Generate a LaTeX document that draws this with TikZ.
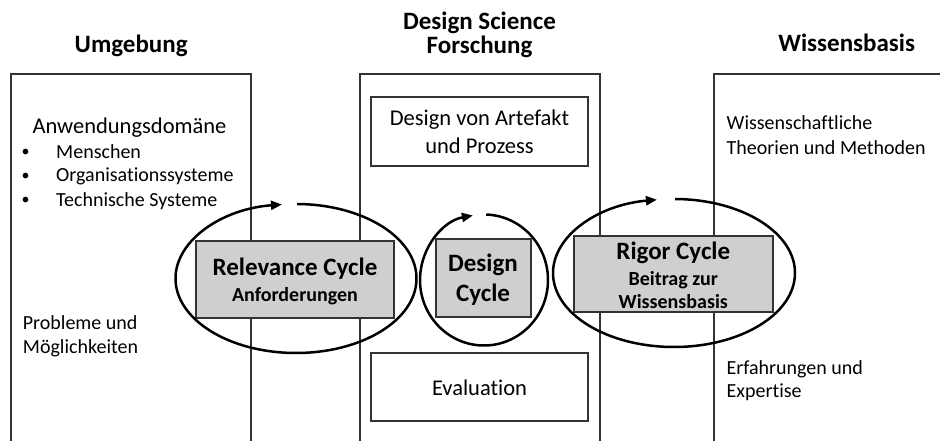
\documentclass[tikz,border=0pt]{standalone}
\usepackage{fontspec}
\setmainfont{Carlito}[Ligatures=NoCommon]
\usetikzlibrary{arrows.meta}
\definecolor{boxgray}{HTML}{D0CECE}
\newcommand{\listdot}{\makebox[34.5pt][l]{\raisebox{1.5pt}{\fontsize{16}{16}\selectfont •}}}
\begin{document}
\begin{tikzpicture}[x=1pt,y=1pt,
  column/.style={draw=black!80, line width=1.1pt},
  plainbox/.style={draw=black!80, line width=1.2pt, fill=white, inner sep=0},
  cyclebox/.style={draw=black!80, line width=1.2pt, fill=boxgray, inner sep=0},
  cyclearc/.style={line width=2.5pt, -{Triangle[length=11pt,width=9pt]}},
  hdr/.style={font=\fontsize{25}{30}\selectfont\bfseries, inner sep=0, anchor=base},
  txt/.style={font=\fontsize{20}{24}\selectfont, inner sep=0, anchor=base west},
  bigtxt/.style={font=\fontsize{22.5}{27}\selectfont, inner sep=0, anchor=base},
  cyclettl/.style={font=\fontsize{25}{30}\selectfont\bfseries, inner sep=0, anchor=base},
  cyclesub/.style={font=\fontsize{20}{24}\selectfont\bfseries, inner sep=0, anchor=base}]
\useasboundingbox (0,0) rectangle (940,-441);

% three columns, open at the bottom
\draw[column] (11,-441) -- (11,-74) -- (251,-74) -- (251,-441);
\draw[column] (360,-441) -- (360,-74) -- (600,-74) -- (600,-441);
\draw[column] (714,-441) -- (714,-74) -- (940,-74);

% column headings
\node[hdr] (hUmg) at (131.2,-52.3) {Umgebung};
\node[hdr] (hDsr1) at (479.5,-29.5) {Design Science};
\node[hdr] (hDsr2) at (479.5,-53.3) {Forschung};
\node[hdr] (hWis) at (846.7,-51.7) {Wissensbasis};

% boxes in the middle column
\node[plainbox, minimum width=217pt, minimum height=69pt] (art) at (479.5,-131.5) {};
\node[plainbox, minimum width=217pt, minimum height=68pt] (eval) at (479.5,-387) {};

% cycle boxes
\node[cyclebox, minimum width=198pt, minimum height=77pt] (rel) at (295,-279.5) {};
\node[cyclebox, minimum width=95pt, minimum height=78pt] (des) at (483.5,-278) {};
\node[cyclebox, minimum width=199pt, minimum height=76pt] (rig) at (673.5,-274) {};

% cycle arrows
\coordinate (relc) at (296,-278.5);
\coordinate (desc) at (484,-280);
\coordinate (rigc) at (674,-273);
\draw[cyclearc] ([shift={(89.5:120.5 and 74.5)}]relc)
  arc[start angle=89.5, end angle=-263.3, x radius=120.5, y radius=74.5];
\draw[cyclearc] ([shift={(88:64 and 65.5)}]desc)
  arc[start angle=88, end angle=-260, x radius=64, y radius=65.5];
\draw[cyclearc] ([shift={(89.5:121 and 74)}]rigc)
  arc[start angle=89.5, end angle=-261.9, x radius=121, y radius=74];

% left column
\node[txt, font=\fontsize{22.5}{27}\selectfont] (dom) at (32.3,-133.5) {Anwendungsdomäne};
\node[txt] (b1) at (21.5,-158.3) {\listdot Menschen};
\node[txt] (b2) at (21.5,-181.7) {\listdot Organisationssysteme};
\node[txt] (b3) at (21.5,-206.2) {\listdot Technische Systeme};
\node[txt] (prob1) at (22.7,-329.3) {Probleme und};
\node[txt] (prob2) at (22.7,-353.3) {Möglichkeiten};

% middle column
\node[bigtxt] (art1) at (479.5,-126) {Design von Artefakt};
\node[bigtxt] (art2) at (479.5,-153.5) {und Prozess};
\node[bigtxt] (evalt) at (479.5,-395) {Evaluation};

% right column
\node[txt] (th1) at (726.5,-130) {Wissenschaftliche};
\node[txt] (th2) at (726.5,-154) {Theorien und Methoden};
\node[txt] (ex1) at (726.5,-374) {Erfahrungen und};
\node[txt] (ex2) at (726.5,-397.3) {Expertise};

% cycle labels
\node[cyclettl] (relt) at (295,-275.7) {Relevance Cycle};
\node[cyclesub] (rels) at (295,-301) {Anforderungen};
\node[cyclettl] (dest1) at (483,-271.7) {Design};
\node[cyclettl] (dest2) at (483,-301.7) {Cycle};
\node[cyclettl] (rigt) at (673.3,-259.3) {Rigor Cycle};
\node[cyclesub] (rigs1) at (673.3,-285) {Beitrag zur};
\node[cyclesub] (rigs2) at (673.3,-308.3) {Wissensbasis};
\end{tikzpicture}
\end{document}
